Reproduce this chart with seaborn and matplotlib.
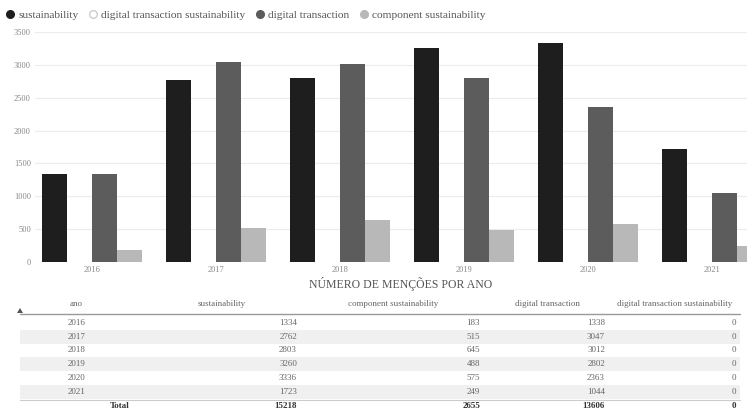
import matplotlib
matplotlib.use("Agg")
import matplotlib.pyplot as plt
from matplotlib.lines import Line2D
from matplotlib.patches import Rectangle, Polygon
import seaborn as sns
import pandas as pd

# ---- data ----
years = ["2016", "2017", "2018", "2019", "2020", "2021"]
series_names = ["sustainability", "digital transaction sustainability",
                "digital transaction", "component sustainability"]
sustainability = [1334, 2762, 2803, 3260, 3336, 1723]
digital_transaction_sustainability = [0, 0, 0, 0, 0, 0]
digital_transaction = [1338, 3047, 3012, 2802, 2363, 1044]
component_sustainability = [183, 515, 645, 488, 575, 249]
y_ticks = [0, 500, 1000, 1500, 2000, 2500, 3000, 3500]
title = "NÚMERO DE MENÇÕES POR ANO"
table_headers = ["ano", "sustainability", "component sustainability",
                 "digital transaction", "digital transaction sustainability"]
total_label = "Total"

colors = ["#1e1e1e", "#ffffff", "#5c5c5c", "#b8b8b8"]

values = {
    "sustainability": sustainability,
    "digital transaction sustainability": digital_transaction_sustainability,
    "digital transaction": digital_transaction,
    "component sustainability": component_sustainability,
}
rows = []
for s in series_names:
    for y, v in zip(years, values[s]):
        rows.append({"ano": y, "serie": s, "valor": v})
df = pd.DataFrame(rows)

sns.set_theme(style="white")
plt.rcParams["font.family"] = ["Liberation Serif", "DejaVu Serif"]

W, H = 747, 409
fig = plt.figure(figsize=(W / 100, H / 100), dpi=100)
fig.patch.set_facecolor("white")

def fx(px):
    return px / W

def fy(py):
    return 1 - py / H

ax_left, ax_right, ax_top, ax_bot = 35, 747, 32, 262
ax = fig.add_axes([fx(ax_left), fy(ax_bot), fx(ax_right - ax_left), (ax_bot - ax_top) / H])

sns.barplot(data=df, x="ano", y="valor", hue="serie", hue_order=series_names,
            palette=colors, saturation=1, width=0.8, ax=ax, legend=False,
            edgecolor="none", linewidth=0)

unit_px = 124.0
center0_px = 92.0
ax.set_xlim((ax_left - center0_px) / unit_px, (ax_right - center0_px) / unit_px)
ax.set_ylim(0, 3500)
ax.set_yticks(y_ticks)
ax.set_yticklabels([str(t) for t in y_ticks])
ax.set_xlabel("")
ax.set_ylabel("")
for sp in ax.spines.values():
    sp.set_visible(False)
ax.grid(axis="y", color="#ececec", linewidth=0.8)
ax.set_axisbelow(True)
ax.tick_params(axis="both", length=0, labelsize=6, colors="#888888", pad=3)
ax.tick_params(axis="y", pad=3)

# legend
handles = [Line2D([0], [0], marker="o", linestyle="none", markersize=5.5,
                  markerfacecolor=c, markeredgecolor=("#cccccc" if c == "#ffffff" else c))
           for c in colors]
fig.legend(handles, series_names, loc="upper left", bbox_to_anchor=(fx(1), fy(5)),
           ncol=4, frameon=False, fontsize=8.2, handlelength=0.8, handletextpad=0.3,
           columnspacing=0.9, borderaxespad=0, labelcolor="#555555")

# title
fig.text(fx(401), fy(284), title, ha="center", va="center", fontsize=8.5, color="#555555")

# table
row_y = [323, 337, 350, 364, 378, 392]
total_y = 406
row_h = 13.6
for i, ry in enumerate(row_y):
    if i % 2 == 1:
        fig.patches.append(Rectangle((fx(20), fy(ry + row_h / 2)), fx(720), row_h / H,
                                     transform=fig.transFigure, facecolor="#f0f0f0",
                                     edgecolor="none", zorder=0))
fig.add_artist(Line2D([fx(20), fx(740)], [fy(314), fy(314)], color="#999999", linewidth=1.0))
fig.add_artist(Line2D([fx(20), fx(740)], [fy(399.5), fy(399.5)], color="#cccccc", linewidth=0.8))
fig.patches.append(Polygon([(fx(17), fy(313)), (fx(23), fy(313)), (fx(20), fy(308))], closed=True,
                           transform=fig.transFigure, facecolor="#555555", edgecolor="none"))

header_y = 304
header_x = [76, 222, 393, 547, 675]
for hx, ht in zip(header_x, table_headers):
    fig.text(fx(hx), fy(header_y), ht, ha="center", va="center", fontsize=6.5, color="#666666")

col_right = [297, 480, 605, 736]
col_data = [sustainability, component_sustainability, digital_transaction,
            digital_transaction_sustainability]
for i, (yr, ry) in enumerate(zip(years, row_y)):
    fig.text(fx(77), fy(ry), yr, ha="center", va="center", fontsize=6.5, color="#666666")
    for cx, data in zip(col_right, col_data):
        fig.text(fx(cx), fy(ry), str(data[i]), ha="right", va="center", fontsize=6.5, color="#666666")
fig.text(fx(120), fy(total_y), total_label, ha="center", va="center", fontsize=6.5,
         color="#333333", fontweight="bold")
for cx, data in zip(col_right, col_data):
    fig.text(fx(cx), fy(total_y), str(sum(data)), ha="right", va="center", fontsize=6.5,
             color="#333333", fontweight="bold")

fig.savefig("out.png", dpi=100)
